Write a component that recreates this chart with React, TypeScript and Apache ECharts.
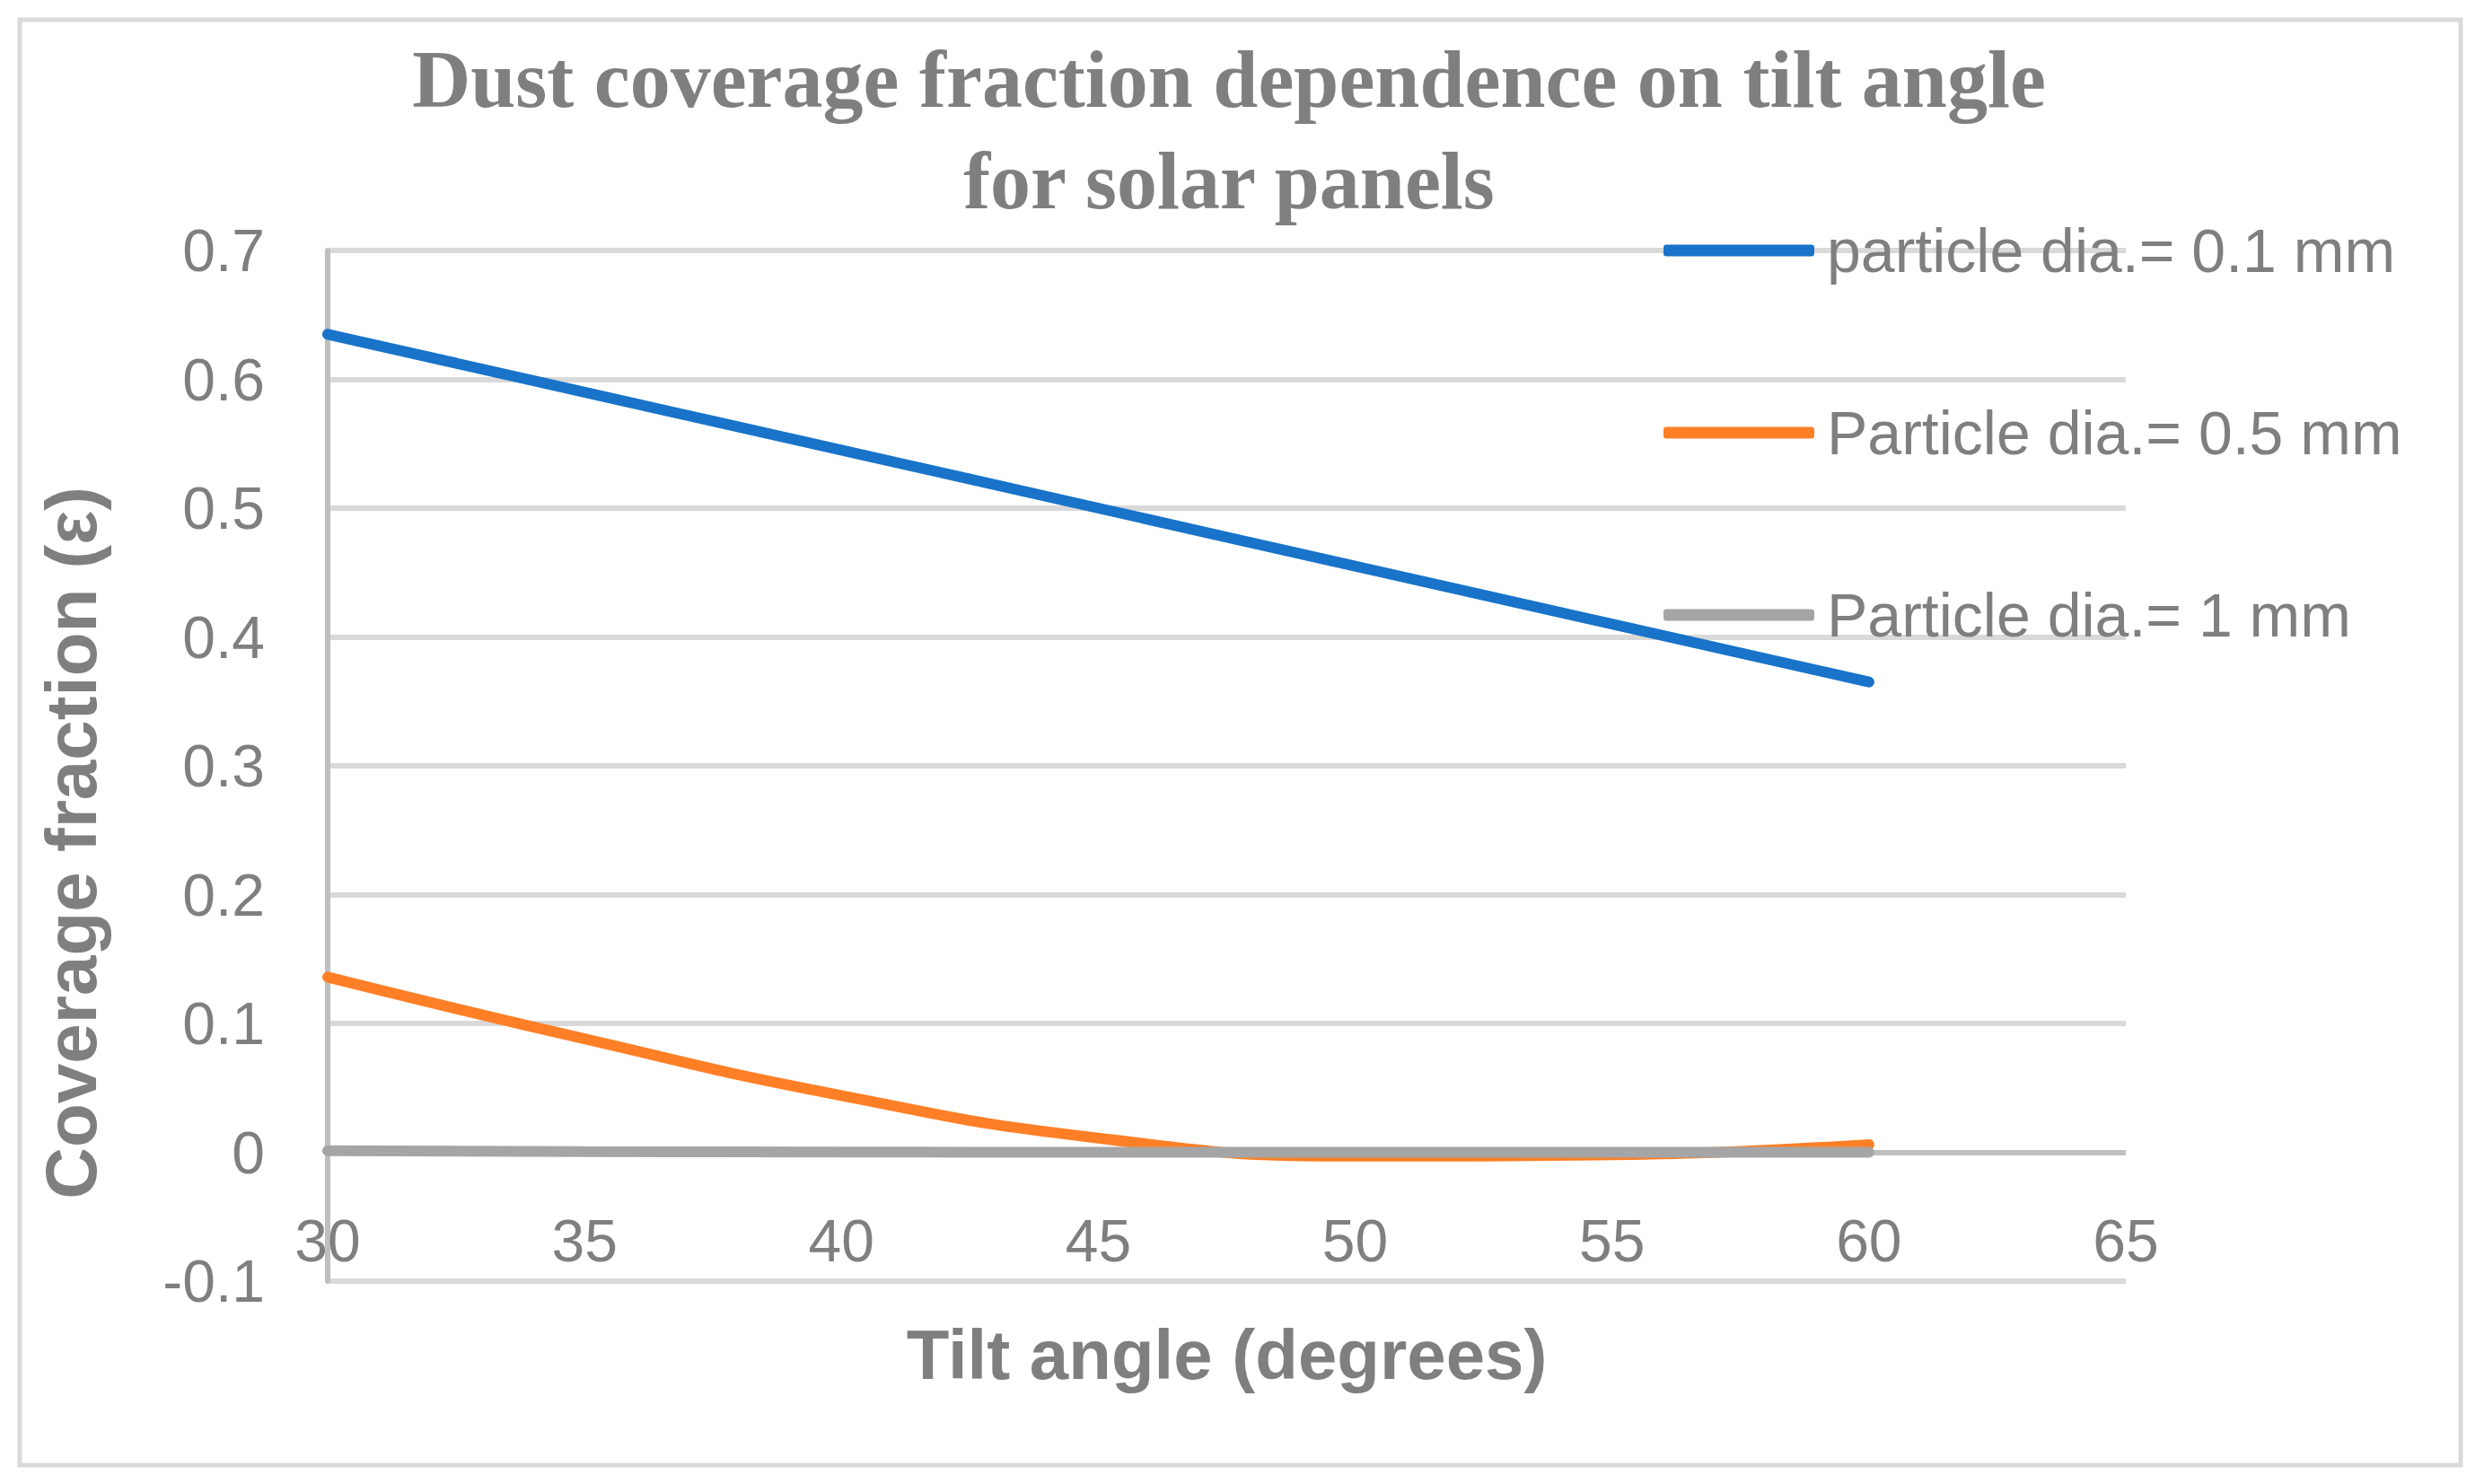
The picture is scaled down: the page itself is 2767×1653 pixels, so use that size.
import React, { useEffect, useRef } from "react";
import * as echarts from "echarts";

const tiltAngles = [30, 35, 40, 45, 50, 55, 60];
const dia01 = [0.635, 0.59, 0.545, 0.5, 0.455, 0.41, 0.365];
const dia05 = [0.136, 0.088, 0.044, 0.011, -0.003, -0.002, 0.006];
const dia1 = [0.0012, 0.0006, 0.0002, 0, 0, 0, 0];
const seriesNames = ["particle dia.= 0.1 mm", "Particle dia.= 0.5 mm", "Particle dia.= 1 mm"];
const seriesColors = ["#1873c9", "#ff7f26", "#a5a5a5"];
const titleText = "Dust coverage fraction dependence on tilt angle\nfor solar panels";
const xTitle = "Tilt angle (degrees)";
const yTitle = "Coverage fraction (ε)";

const SANS = "'Liberation Sans', Arial, sans-serif";
const SERIF = "'Liberation Serif', 'Times New Roman', serif";
const TXT = "#7f7f7f";
// gridline colours from -0.1 upward; the zero line is the darker horizontal axis
const gridColors = ["#d9d9d9", "#bfbfbf", "#d9d9d9", "#d9d9d9", "#d9d9d9", "#d9d9d9", "#d9d9d9", "#d9d9d9", "#d9d9d9"];

export default function App() {
  const ref = useRef<HTMLDivElement>(null);
  useEffect(() => {
    if (!ref.current) return;
    const chart = echarts.init(ref.current, undefined, { renderer: "svg" });
    const allSeries = [dia01, dia05, dia1];
    chart.setOption({
      animation: false,
      backgroundColor: "#ffffff",
      title: {
        text: titleText,
        left: 1369,
        textAlign: "center",
        top: 32,
        padding: 0,
        textStyle: {
          fontFamily: SERIF,
          fontWeight: "bold",
          fontSize: 90,
          lineHeight: 113,
          color: TXT,
        },
      },
      legend: {
        orient: "vertical",
        left: 1853,
        top: 239,
        padding: 0,
        itemGap: 123,
        itemWidth: 168,
        itemHeight: 13,
        icon: "roundRect",
        textStyle: {
          fontFamily: SANS,
          fontSize: 68,
          lineHeight: 80,
          color: TXT,
          padding: [0, 0, 0, 9],
        },
        data: seriesNames,
      },
      graphic: [
        {
          type: "rect",
          shape: { x: 22, y: 22, width: 2719, height: 1610 },
          style: { fill: "none", stroke: "#d9d9d9", lineWidth: 5 },
          silent: true,
        },
        {
          type: "text",
          x: 79,
          y: 939,
          rotation: Math.PI / 2,
          silent: true,
          style: {
            text: yTitle,
            fontFamily: SANS,
            fontWeight: "bold",
            fontSize: 80,
            fill: TXT,
            align: "center",
            verticalAlign: "middle",
          },
        },
      ],
      grid: {
        left: 365,
        right: 399,
        top: 279,
        bottom: 226,
        containLabel: false,
        outerBoundsMode: "none",
      },
      xAxis: {
        type: "value",
        min: 30,
        max: 65,
        interval: 5,
        name: xTitle,
        nameLocation: "middle",
        nameGap: 43,
        nameTextStyle: {
          fontFamily: SANS,
          fontWeight: "bold",
          fontSize: 78,
          lineHeight: 78,
          color: TXT,
        },
        axisLine: { show: false, onZero: false },
        axisTick: { show: false },
        splitLine: { show: false },
        axisLabel: {
          fontFamily: SANS,
          fontSize: 66,
          lineHeight: 66,
          color: TXT,
          margin: -78,
        },
      },
      yAxis: {
        type: "value",
        min: -0.1,
        max: 0.7,
        interval: 0.1,
        axisLine: { show: true, onZero: false, lineStyle: { color: "#bfbfbf", width: 6 } },
        axisTick: { show: false },
        splitLine: { show: true, lineStyle: { color: gridColors, width: 6 } },
        axisLabel: {
          fontFamily: SANS,
          fontSize: 66,
          color: TXT,
          margin: 70,
          formatter: (v: number) => String(Math.round(v * 10) / 10),
        },
      },
      series: seriesNames.map((name, i) => ({
        name,
        type: "line",
        smooth: true,
        symbol: "none",
        data: tiltAngles.map((x, j) => [x, allSeries[i][j]]),
        lineStyle: { color: seriesColors[i], width: 12, cap: "round" },
        itemStyle: { color: seriesColors[i] },
      })),
    });
    return () => chart.dispose();
  }, []);
  return (
    <div
      ref={ref}
      style={{ position: "fixed", left: 0, top: 0, width: 2767, height: 1653 }}
    />
  );
}
